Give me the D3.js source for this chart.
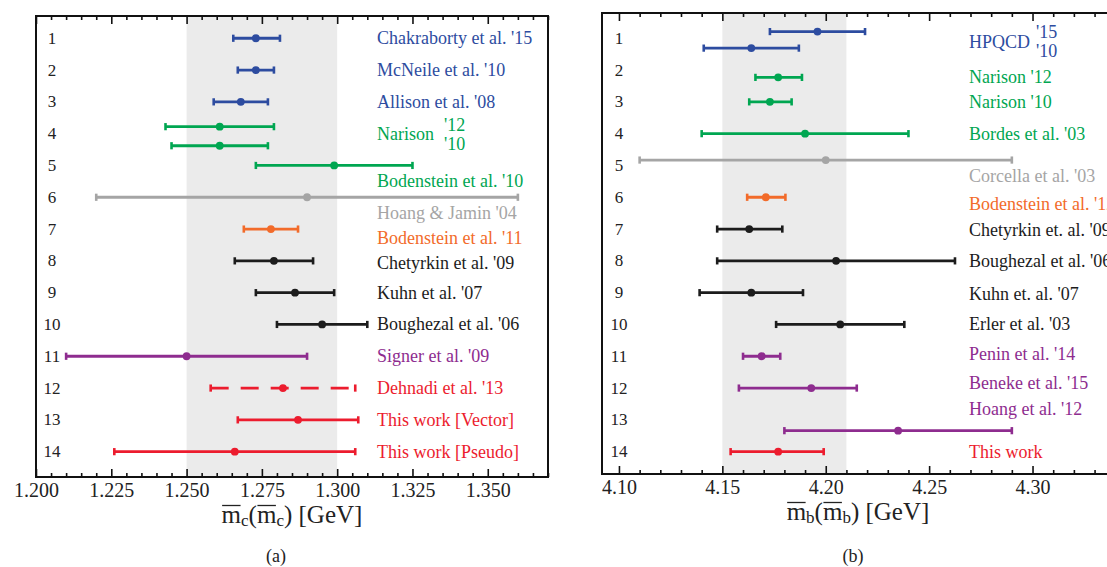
<!DOCTYPE html>
<html>
<head>
<meta charset="utf-8">
<script src="https://cdn.jsdelivr.net/npm/d3@7"></script>
<style>
  html, body { margin: 0; padding: 0; background: #fff; }
  svg { display: block; font-family: "Liberation Serif", "DejaVu Serif", serif; }
</style>
</head>
<body>
<svg id="chart" width="1107" height="567"></svg>
<script>
// ---------- (a) charm quark mass  m_c(m_c)  [GeV] ----------
const charmRefs   = ["Chakraborty et al. '15", "McNeile et al. '10", "Allison et al. '08",
                     "Narison '12", "Narison '10", "Bodenstein et al. '10", "Hoang & Jamin '04",
                     "Bodenstein et al. '11", "Chetyrkin et al. '09", "Kuhn et al. '07",
                     "Boughezal et al. '06", "Signer et al. '09", "Dehnadi et al. '13",
                     "This work [Vector]", "This work [Pseudo]"];
const charmRows   = [1, 2, 3, 3.78, 4.38, 5, 6, 7, 8, 9, 10, 11, 12, 13, 14];
const charmMass   = [1.273, 1.273, 1.268, 1.261, 1.261, 1.299, 1.290, 1.278, 1.279, 1.286, 1.295, 1.250, 1.282, 1.287, 1.266];
const charmLow    = [1.2655, 1.267, 1.259, 1.243, 1.245, 1.273, 1.220, 1.269, 1.266, 1.273, 1.280, 1.210, 1.258, 1.267, 1.226];
const charmHigh   = [1.281, 1.279, 1.277, 1.279, 1.277, 1.325, 1.360, 1.287, 1.292, 1.299, 1.310, 1.290, 1.306, 1.307, 1.306];
const charmGroup  = ["lattice", "lattice", "lattice", "narison", "narison", "narison", "other",
                     "bodenstein", "sumrules", "sumrules", "sumrules", "nrqcd", "thiswork", "thiswork", "thiswork"];
const charmTicks  = [1.200, 1.225, 1.250, 1.275, 1.300, 1.325, 1.350];
const charmBand   = [1.250, 1.300];

const charmNotes      = ["Chakraborty et al. '15", "McNeile et al. '10", "Allison et al. '08", "Narison",
                         "Bodenstein et al. '10", "Hoang & Jamin '04", "Bodenstein et al. '11",
                         "Chetyrkin et al. '09", "Kuhn et al. '07", "Boughezal et al. '06",
                         "Signer et al. '09", "Dehnadi et al. '13", "This work [Vector]", "This work [Pseudo]"];
const charmNoteRows   = [1, 2, 3, 4.01, 5.49, 6.48, 7.27, 8.06, 9, 10, 11, 12, 13, 14];
const charmNoteGroup  = ["lattice", "lattice", "lattice", "narison", "narison", "other", "bodenstein",
                         "sumrules", "sumrules", "sumrules", "nrqcd", "thiswork", "thiswork", "thiswork"];
const charmSupBase    = "Narison";
const charmSupText    = ["'12", "'10"];
const charmSupRows    = [3.74, 4.33];

// ---------- (b) bottom quark mass  m_b(m_b)  [GeV] ----------
const bottomRefs  = ["HPQCD '15", "HPQCD '10", "Narison '12", "Narison '10", "Bordes et al. '03",
                     "Corcella et al. '03", "Bodenstein et al. '12", "Chetyrkin et. al. '09",
                     "Boughezal et al. '06", "Kuhn et. al. '07", "Erler et al. '03",
                     "Penin et al. '14", "Beneke et al. '15", "Hoang et al. '12", "This work"];
const bottomRows  = [0.79, 1.31, 2.23, 3, 4, 4.83, 6, 7, 8, 9, 10, 11, 12, 13.34, 14];
const bottomMass  = [4.196, 4.164, 4.177, 4.173, 4.190, 4.200, 4.171, 4.163, 4.205, 4.164, 4.207, 4.169, 4.193, 4.235, 4.177];
const bottomLow   = [4.173, 4.141, 4.166, 4.163, 4.140, 4.110, 4.162, 4.1475, 4.1475, 4.139, 4.176, 4.160, 4.158, 4.180, 4.154];
const bottomHigh  = [4.219, 4.187, 4.1885, 4.1835, 4.240, 4.290, 4.1805, 4.179, 4.2625, 4.189, 4.238, 4.178, 4.215, 4.290, 4.199];
const bottomGroup = ["lattice", "lattice", "narison", "narison", "narison", "other", "bodenstein",
                     "sumrules", "sumrules", "sumrules", "sumrules", "nrqcd", "nrqcd", "nrqcd", "thiswork"];
const bottomTicks = [4.10, 4.15, 4.20, 4.25, 4.30];
const bottomBand  = [4.150, 4.210];

const bottomNotes     = ["HPQCD", "Narison '12", "Narison '10", "Bordes et al. '03", "Corcella et al. '03",
                         "Bodenstein et al. '12", "Chetyrkin et. al. '09", "Boughezal et al. '06",
                         "Kuhn et. al. '07", "Erler et al. '03", "Penin et al. '14", "Beneke et al. '15",
                         "Hoang et al. '12", "This work"];
const bottomNoteRows  = [1.11, 2.21, 2.99, 4, 5.32, 6.2, 7.03, 8, 9.04, 10, 10.93, 11.83, 12.67, 14];
const bottomNoteGroup = ["lattice", "narison", "narison", "narison", "other", "bodenstein", "sumrules",
                         "sumrules", "sumrules", "sumrules", "nrqcd", "nrqcd", "nrqcd", "thiswork"];
const bottomSupBase   = "HPQCD";
const bottomSupText   = ["'15", "'10"];
const bottomSupRows   = [0.8, 1.39];

const rowNumbers   = d3.range(1, 15);
const dashedRefs   = ["Dehnadi et al. '13"];

// ---------- styling ----------
const groupColor = d3.scaleOrdinal()
  .domain(["lattice", "narison", "other", "bodenstein", "sumrules", "nrqcd", "thiswork"])
  .range(["#2d4ca0", "#00a651", "#a5a5a5", "#f26b2a", "#1c1c1c", "#8e2c8f", "#ec1c2e"]);

const svg = d3.select("#chart");

// rows map to the same vertical positions in both panels
const y = d3.scaleLinear().domain([0.3, 14.8]).range([16, 477.1]);

function drawPanel(cfg) {
  const g = svg.append("g");
  const x = d3.scaleLinear().domain(cfg.domain).range([cfg.x0, cfg.x1]);

  // reference band
  g.append("rect")
    .attr("x", x(cfg.band[0])).attr("y", cfg.y0)
    .attr("width", x(cfg.band[1]) - x(cfg.band[0]))
    .attr("height", cfg.y1 - cfg.y0)
    .attr("fill", "#ebebeb");

  // error bars
  const items = cfg.refs.map((r, i) => ({
    ref: r, row: cfg.rows[i], m: cfg.mass[i], lo: cfg.low[i], hi: cfg.high[i], group: cfg.group[i]
  }));
  const bars = g.append("g").selectAll("g").data(items).join("g")
    .attr("color", d => groupColor(d.group));
  bars.append("line")
    .attr("x1", d => x(d.lo)).attr("x2", d => x(d.hi))
    .attr("y1", d => y(d.row)).attr("y2", d => y(d.row))
    .attr("stroke", "currentColor").attr("stroke-width", 2.8)
    .attr("stroke-dasharray", d => dashedRefs.includes(d.ref) ? "18,12" : null);
  bars.selectAll("line.cap").data(d => [d.lo, d.hi].map(v => ({ v, row: d.row }))).join("line")
    .attr("class", "cap")
    .attr("x1", d => x(d.v)).attr("x2", d => x(d.v))
    .attr("y1", d => y(d.row) - 3.6).attr("y2", d => y(d.row) + 3.6)
    .attr("stroke", "currentColor").attr("stroke-width", 2.6);
  bars.append("circle")
    .attr("cx", d => x(d.m)).attr("cy", d => y(d.row)).attr("r", 3.9)
    .attr("fill", "currentColor");

  // row numbers
  g.append("g").selectAll("text").data(rowNumbers).join("text")
    .attr("x", cfg.numX).attr("y", d => y(d))
    .attr("text-anchor", "middle").attr("dominant-baseline", "central")
    .attr("font-size", 17).attr("fill", "#222")
    .text(d => d);

  // reference notes
  const notes = g.append("g").selectAll("text").data(cfg.notes).join("text")
    .attr("x", cfg.labelX).attr("y", (d, i) => y(cfg.noteRows[i]))
    .attr("dominant-baseline", "central")
    .attr("font-size", 18)
    .attr("fill", (d, i) => groupColor(cfg.noteGroup[i]))
    .text(d => d);

  // stacked year tags after a shared author name
  const baseIdx = cfg.notes.indexOf(cfg.supBase);
  const baseNode = notes.nodes()[baseIdx];
  const supX = cfg.labelX + baseNode.getComputedTextLength() + cfg.supGap;
  g.append("g").selectAll("text").data(cfg.supText).join("text")
    .attr("x", supX).attr("y", (d, i) => y(cfg.supRows[i]))
    .attr("dominant-baseline", "central")
    .attr("font-size", 18)
    .attr("fill", groupColor(cfg.noteGroup[baseIdx]))
    .text(d => d);

  // frame
  g.append("rect")
    .attr("x", cfg.x0).attr("y", cfg.y0)
    .attr("width", cfg.x1 - cfg.x0).attr("height", cfg.y1 - cfg.y0)
    .attr("fill", "none").attr("stroke", "#111").attr("stroke-width", 2);

  // inward ticks, bottom and top
  const minors = cfg.minors.filter(v => !cfg.ticks.some(t => Math.abs(t - v) < 1e-9));
  const styleAxis = s => {
    s.select(".domain").remove();
    s.selectAll(".tick line").attr("stroke", "#111").attr("stroke-width", 1.6);
    s.selectAll(".tick text").attr("font-family", "Liberation Serif, DejaVu Serif, serif")
      .attr("font-size", 20).attr("fill", "#222");
  };
  g.append("g").attr("transform", `translate(0,${cfg.y1})`)
    .call(d3.axisBottom(x).tickValues(cfg.ticks).tickSize(-8).tickPadding(5.5).tickFormat(d3.format(cfg.fmt)))
    .call(styleAxis);
  g.append("g").attr("transform", `translate(0,${cfg.y1})`)
    .call(d3.axisBottom(x).tickValues(minors).tickSize(-4).tickFormat(""))
    .call(styleAxis);
  g.append("g").attr("transform", `translate(0,${cfg.y0})`)
    .call(d3.axisTop(x).tickValues(cfg.ticks).tickSize(-8).tickFormat(""))
    .call(styleAxis);
  g.append("g").attr("transform", `translate(0,${cfg.y0})`)
    .call(d3.axisTop(x).tickValues(minors).tickSize(-4).tickFormat(""))
    .call(styleAxis);

  // axis title: m̄_q(m̄_q) [GeV]
  const fs = 25;
  const title = g.append("text")
    .attr("x", cfg.titleX).attr("y", cfg.titleY)
    .attr("text-anchor", "middle").attr("font-size", fs).attr("fill", "#222");
  title.append("tspan").text("m");
  title.append("tspan").attr("font-size", 17).attr("dy", 3).text(cfg.quark);
  title.append("tspan").attr("dy", -3).text("(m");
  title.append("tspan").attr("font-size", 17).attr("dy", 3).text(cfg.quark);
  title.append("tspan").attr("dy", -3).text(") [GeV]");
  const tn = title.node();
  [0, 3].forEach(ci => {
    const e = tn.getExtentOfChar(ci);
    g.append("line")
      .attr("x1", e.x + 0.5).attr("x2", e.x + e.width - 0.5)
      .attr("y1", cfg.titleY - 0.7 * fs).attr("y2", cfg.titleY - 0.7 * fs)
      .attr("stroke", "#222").attr("stroke-width", 1.3);
  });

  // sub-figure caption
  g.append("text")
    .attr("x", cfg.capX).attr("y", 562)
    .attr("text-anchor", "middle").attr("font-size", 18).attr("fill", "#222")
    .text(cfg.caption);
}

drawPanel({
  x0: 36, x1: 548, y0: 16, y1: 477,
  domain: [1.200, 1.370], band: charmBand,
  ticks: charmTicks, minors: d3.range(0, 35).map(i => +(1.2 + i * 0.005).toFixed(3)), fmt: ".3f",
  refs: charmRefs, rows: charmRows, mass: charmMass, low: charmLow, high: charmHigh, group: charmGroup,
  notes: charmNotes, noteRows: charmNoteRows, noteGroup: charmNoteGroup,
  supBase: charmSupBase, supText: charmSupText, supRows: charmSupRows, supGap: 10,
  numX: 52, labelX: 377, titleX: 292, titleY: 523, quark: "c", capX: 276, caption: "(a)"
});

drawPanel({
  x0: 602, x1: 1114, y0: 13, y1: 474,
  domain: [4.0918, 4.3394], band: bottomBand,
  ticks: bottomTicks, minors: d3.range(0, 24).map(i => +(4.10 + i * 0.01).toFixed(2)), fmt: ".2f",
  refs: bottomRefs, rows: bottomRows, mass: bottomMass, low: bottomLow, high: bottomHigh, group: bottomGroup,
  notes: bottomNotes, noteRows: bottomNoteRows, noteGroup: bottomNoteGroup,
  supBase: bottomSupBase, supText: bottomSupText, supRows: bottomSupRows, supGap: 6,
  numX: 619, labelX: 969, titleX: 858, titleY: 520, quark: "b", capX: 853, caption: "(b)"
});
</script>
</body>
</html>
